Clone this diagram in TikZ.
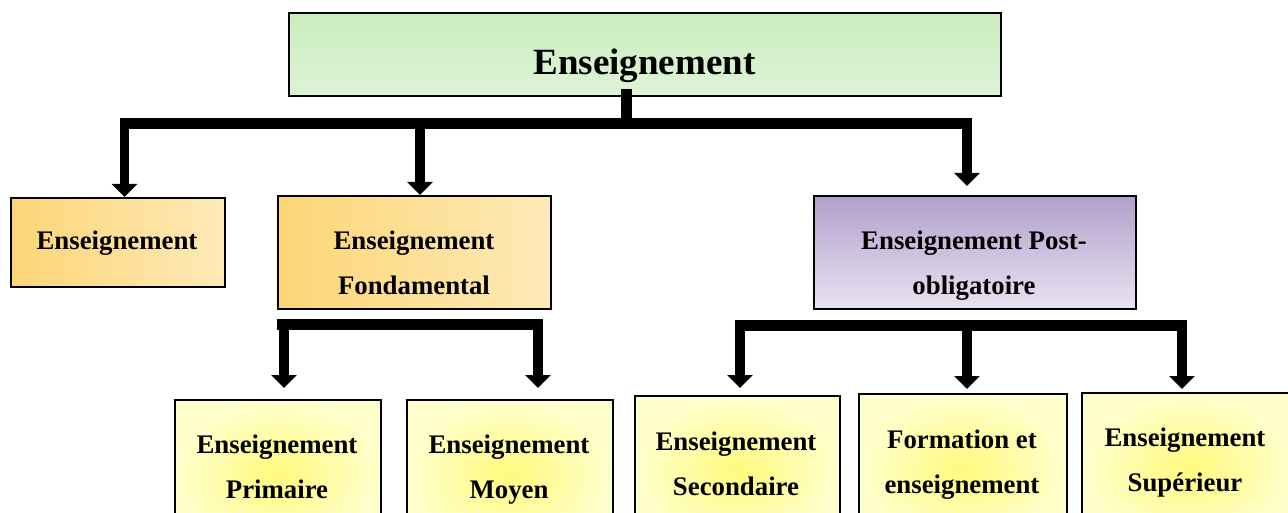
\documentclass[tikz,border=0pt]{standalone}
\usepackage{fontspec}
\setmainfont{Liberation Serif}
\usetikzlibrary{arrows.meta}

\definecolor{rootTop}{RGB}{202,237,190}
\definecolor{rootBot}{RGB}{222,243,214}
\definecolor{orA}{RGB}{252,213,118}
\definecolor{orB}{RGB}{254,234,184}
\definecolor{puTop}{RGB}{177,160,204}
\definecolor{puBot}{RGB}{233,227,241}
\definecolor{yeIn}{RGB}{255,250,125}
\definecolor{yeOut}{RGB}{255,255,205}

\begin{document}
\begin{tikzpicture}[x=1pt,y=-1pt,
  box/.style={draw=black, line width=2pt, rectangle, inner sep=0pt, anchor=north west},
  greenbox/.style={box, line width=1.6pt, top color=rootTop, bottom color=rootBot},
  orangebox/.style={box, left color=orA, right color=orB},
  purplebox/.style={box, top color=puTop, bottom color=puBot},
  yellowbox/.style={box, inner color=yeIn, outer color=yeOut},
  boxtext/.style={font=\bfseries\fontsize{26.8}{45}\selectfont, align=center, inner sep=0pt,
    execute at begin node={\rule{0pt}{20pt}}, execute at end node={\rule[-6pt]{0pt}{6pt}}},
  bar/.style={line width=11pt, line cap=butt},
  leg/.style={line width=9.5pt, -{Triangle[width=25pt,length=13pt]}},
]
\useasboundingbox (0,0) rectangle (1288,513);
\clip (0,0) rectangle (1288,513);

% ---- boxes ----
\node[greenbox,  minimum width=712pt, minimum height=83pt]  (root) at (288,12) {};
\node[orangebox, minimum width=214pt, minimum height=89pt]  (ens)  at (10,197) {};
\node[orangebox, minimum width=273pt, minimum height=113pt] (fond) at (277,195) {};
\node[purplebox, minimum width=322pt, minimum height=113pt] (post) at (813,195) {};
\node[yellowbox, minimum width=206pt, minimum height=150pt] (prim) at (174,399) {};
\node[yellowbox, minimum width=206pt, minimum height=150pt] (moy)  at (406,399) {};
\node[yellowbox, minimum width=205pt, minimum height=150pt] (sec)  at (634,395) {};
\node[yellowbox, minimum width=208pt, minimum height=150pt] (form) at (858,393) {};
\node[yellowbox, minimum width=214pt, minimum height=150pt] (sup)  at (1081,392) {};

% ---- texts ----
\node[font=\bfseries\fontsize{37}{44}\selectfont, inner sep=0pt, anchor=base] (rootT) at (644.5,75) {Enseignement};
\node[font=\bfseries\fontsize{26.8}{45}\selectfont, inner sep=0pt, anchor=base] (ensT) at (117,250) {Enseignement};
\node[boxtext] (fondT) at (414,265.5) {Enseignement\\Fondamental};
\node[boxtext] (postT) at (974,265.5) {Enseignement Post-\\obligatoire};
\node[boxtext] (primT) at (277,470) {Enseignement\\Primaire};
\node[boxtext] (moyT)  at (509,470) {Enseignement\\Moyen};
\node[boxtext] (secT)  at (736,467) {Enseignement\\Secondaire};
\node[boxtext] (formT) at (962,465) {Formation et\\enseignement};
\node[boxtext] (supT)  at (1185,463) {Enseignement\\Supérieur};

% ---- first level connector ----
\coordinate (tj) at (626,124);
\coordinate (l1) at (124.5,119);
\coordinate (l2) at (420,119);
\coordinate (l3) at (967,119);
\draw[line width=11pt] ([yshift=8pt]root.south -| tj) -- (tj);
\draw[bar] (120,124) -- (972,124);
\draw[leg] (l1) -- (l1 |- ens.north);
\draw[leg] (l2) -- (l2 |- fond.north);
\draw[leg, shorten >=9pt] (l3) -- (l3 |- post.north);

% ---- connector below Fondamental ----
\coordinate (f1) at (284,319);
\coordinate (f2) at (538,319);
\draw[bar] (277,324) -- (542,324);
\draw[leg, shorten >=11pt] (f1) -- (f1 |- prim.north);
\draw[leg, shorten >=11pt] (f2) -- (f2 |- moy.north);

% ---- connector below Post-obligatoire ----
\coordinate (p1) at (740,320);
\coordinate (p2) at (967,320);
\coordinate (p3) at (1182,320);
\draw[bar] (735,325.5) -- (1187,325.5);
\draw[leg, shorten >=7pt] (p1) -- (p1 |- sec.north);
\draw[leg, shorten >=4pt] (p2) -- (p2 |- form.north);
\draw[leg, shorten >=3pt] (p3) -- (p3 |- sup.north);
\end{tikzpicture}
\end{document}
